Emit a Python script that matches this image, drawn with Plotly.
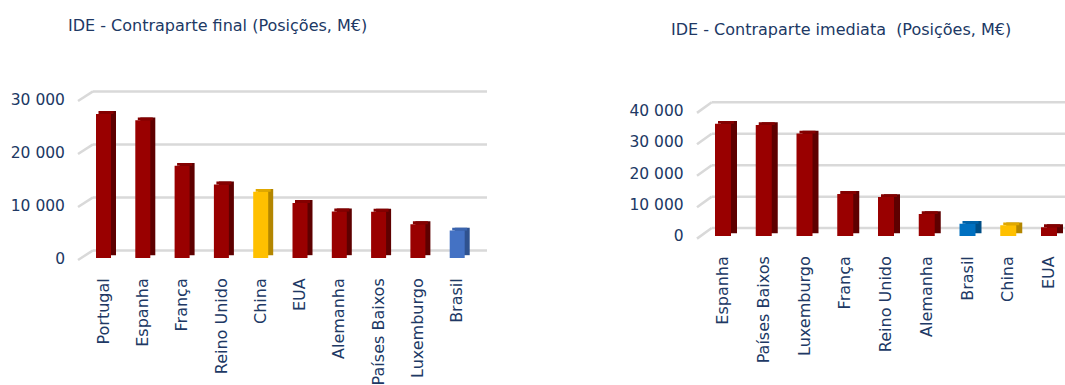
import plotly.graph_objects as go

W, H = 1065, 385
TXT = "#203864"
GRID = "#D9D9D9"
FONT = "DejaVu Sans"

# ---------------- data ----------------
left_title = "IDE - Contraparte final (Posições, M€)"
left_cats = ["Portugal", "Espanha", "França", "Reino Unido", "China", "EUA",
             "Alemanha", "Países Baixos", "Luxemburgo", "Brasil"]
left_vals = [27200, 26000, 17400, 13900, 12500, 10400, 8800, 8750, 6400, 5200]
left_ticks = [0, 10000, 20000, 30000]
left_ticktext = ["0", "10 000", "20 000", "30 000"]

right_title = "IDE - Contraparte imediata  (Posições, M€)"
right_cats = ["Espanha", "Países Baixos", "Luxemburgo", "França", "Reino Unido",
              "Alemanha", "Brasil", "China", "EUA"]
right_vals = [35700, 35300, 32600, 13400, 12400, 7000, 3900, 3400, 2800]
right_ticks = [0, 10000, 20000, 30000, 40000]
right_ticktext = ["0", "10 000", "20 000", "30 000", "40 000"]

# ---------------- styles (front, top, side) ----------------
RED = ("#990000", "#840000", "#5E0000")
YEL = ("#FFC000", "#E0A800", "#B38600")
BLU1 = ("#4472C4", "#3A64AE", "#2F528F")
BLU2 = ("#0070C0", "#0062A8", "#004E86")

def cols(cats, special):
    out = ([], [], [])
    for c in cats:
        trip = special.get(c, RED)
        for i in range(3):
            out[i].append(trip[i])
    return out

lcol = cols(left_cats, {"China": YEL, "Brasil": BLU1})
rcol = cols(right_cats, {"China": YEL, "Brasil": BLU2})

# pixel geometry (px -> paper fractions)
L = dict(base=263, ppu=55.3 / 10000, ymax=30500, x0=93, x1=487,
         c0=103.5, step=39.3, fw=15, sw=5, cap=3, shift=8, stub=(78, 10))
R = dict(base=240, ppu=32.8 / 10000, ymax=41000, x0=711.7, x1=1065,
         c0=723, step=40.75, fw=16, sw=6, cap=3, shift=8.3, stub=(697, 11))

fig = go.Figure()

def add_chart(g, cats, vals, colset, xa, ya, ticks, ticktext, title, tx, ty):
    front, top, side = colset
    xn = "x" if xa == 1 else f"x{xa}"
    yn = "y" if ya == 1 else f"y{ya}"
    fw = g["fw"] / g["step"]
    sw = g["sw"] / g["step"]
    cap = g["cap"] / g["ppu"]
    # gridlines (back wall, drawn in perspective) + diagonal stubs
    sx, rise = g["stub"]
    for t in ticks:
        yb = g["base"] - g["shift"] - t * g["ppu"]
        fig.add_shape(type="line", xref="paper", yref="paper", layer="below",
                      x0=g["x0"] / W, y0=(H - yb) / H,
                      x1=min(1.0, g["x1"] / W), y1=(H - yb) / H,
                      line=dict(color=GRID, width=2.5))
        fig.add_shape(type="line", xref="paper", yref="paper", layer="below",
                      x0=sx / W, y0=(H - (yb + rise)) / H,
                      x1=g["x0"] / W, y1=(H - yb) / H,
                      line=dict(color=GRID, width=2.5))
    # side (dark) extrusion
    fig.add_trace(go.Bar(x=cats, y=vals, base=cap, width=fw, offset=-fw / 2 + sw,
                         marker=dict(color=side, line=dict(width=0)),
                         xaxis=xn, yaxis=yn, hoverinfo="skip", showlegend=False))
    # top face
    fig.add_trace(go.Bar(x=cats, y=[cap] * len(vals), base=vals, width=fw,
                         offset=-fw / 2 + sw / 2,
                         marker=dict(color=top, line=dict(width=0)),
                         xaxis=xn, yaxis=yn, hoverinfo="skip", showlegend=False))
    # front face
    fig.add_trace(go.Bar(x=cats, y=vals, width=fw, offset=-fw / 2,
                         marker=dict(color=front, line=dict(width=0)),
                         xaxis=xn, yaxis=yn, showlegend=False))
    xr = [(g["x0"] - g["c0"]) / g["step"], (g["x1"] - g["c0"]) / g["step"]]
    top_px = g["base"] - g["ymax"] * g["ppu"]
    ydom = [(H - g["base"]) / H, (H - top_px) / H]
    xdom = [g["x0"] / W, min(1.0, g["x1"] / W)]
    fig.layout[f"xaxis{'' if xa == 1 else xa}"] = dict(
        domain=xdom, range=xr, type="category", anchor=yn,
        showgrid=False, zeroline=False, showline=False, ticks="",
        tickangle=-90, ticklabelstandoff=16,
        tickfont=dict(family=FONT, size=16, color=TXT))
    fig.layout[f"yaxis{'' if ya == 1 else ya}"] = dict(
        domain=ydom, range=[0, g["ymax"]], anchor=xn,
        tickvals=ticks, ticktext=ticktext, showgrid=False, zeroline=False,
        showline=False, ticks="", ticklabelstandoff=27,
        tickfont=dict(family=FONT, size=15.5, color=TXT))
    fig.add_annotation(text=title, xref="paper", yref="paper",
                       x=tx / W, y=(H - ty) / H, showarrow=False,
                       xanchor="center", yanchor="middle",
                       font=dict(family=FONT, size=16, color=TXT))

add_chart(L, left_cats, left_vals, lcol, 1, 1, left_ticks, left_ticktext,
          left_title, 217, 20)
add_chart(R, right_cats, right_vals, rcol, 2, 2, right_ticks, right_ticktext,
          right_title, 841, 25)

fig.update_layout(width=W, height=H, margin=dict(l=0, r=0, t=0, b=0),
                  barmode="overlay", paper_bgcolor="white", plot_bgcolor="rgba(0,0,0,0)",
                  showlegend=False, font=dict(family=FONT, color=TXT))

fig.write_html("out.html")
